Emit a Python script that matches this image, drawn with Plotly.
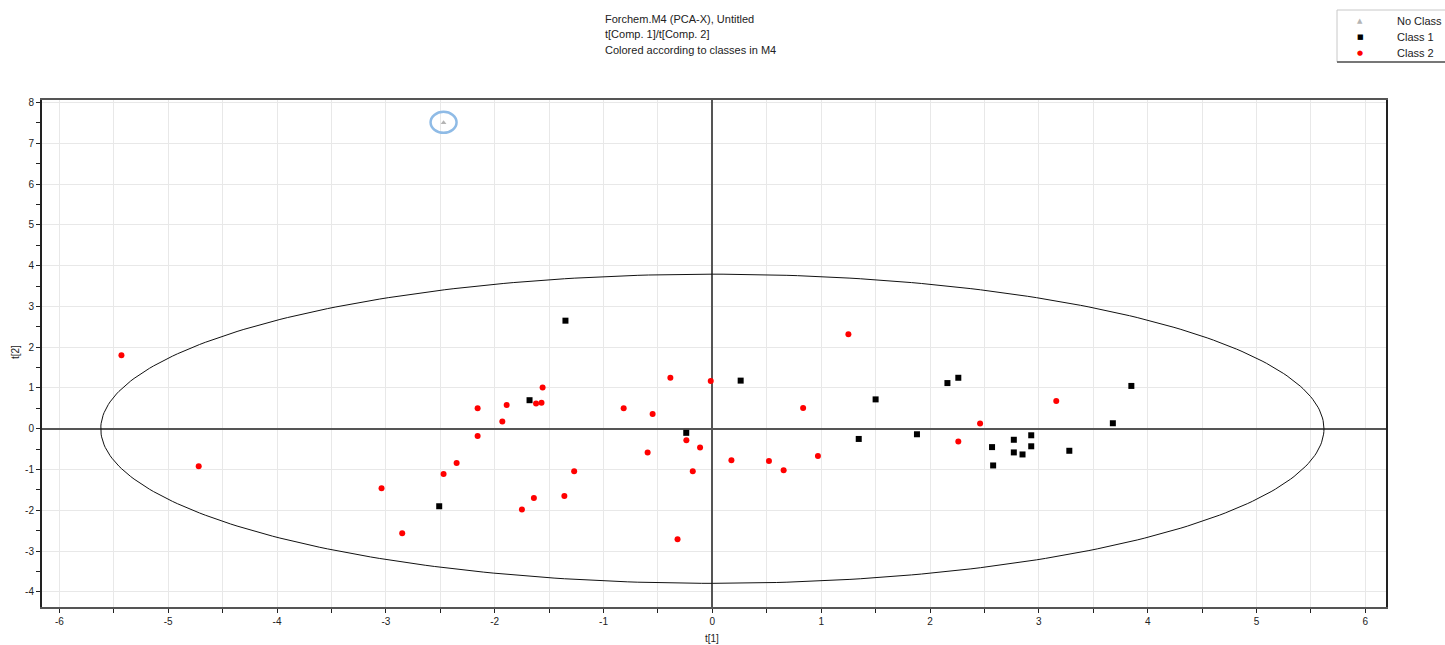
import numpy as np
import plotly.graph_objects as go

# Score values t[1], t[2] per class
no_class_t1 = [-2.47]
no_class_t2 = [7.50]

class1_t1 = [-1.35, -1.68, -2.51, -0.24, 0.26, 1.345, 1.50, 1.88, 2.16, 2.26,
             2.57, 2.58, 2.77, 2.77, 2.85, 2.93, 2.93, 3.28, 3.68, 3.85]
class1_t2 = [2.65, 0.70, -1.90, -0.10, 1.18, -0.25, 0.72, -0.135, 1.12, 1.25,
             -0.45, -0.90, -0.27, -0.58, -0.63, -0.16, -0.43, -0.54, 0.135, 1.05]

class2_t1 = [-5.43, -4.72, -3.04, -2.85, -2.157, -2.157, -2.35, -2.47, -1.89, -1.93,
             -1.62, -1.57, -1.56, -1.75, -1.64, -1.36, -1.27, -0.815, -0.595, -0.549,
             -0.386, -0.32, -0.239, -0.18, -0.113, -0.015, 0.175, 0.52, 0.655, 0.834,
             0.97, 1.25, 2.46, 2.26, 3.16]
class2_t2 = [1.80, -0.92, -1.46, -2.56, 0.50, -0.18, -0.84, -1.11, 0.58, 0.18,
             0.62, 0.64, 1.01, -1.98, -1.70, -1.65, -1.04, 0.50, -0.58, 0.36,
             1.25, -2.71, -0.28, -1.04, -0.46, 1.17, -0.77, -0.79, -1.02, 0.51,
             -0.67, 2.32, 0.13, -0.31, 0.68]

# Hotelling T2 ellipse semi-axes
ell_a = 5.62
ell_b = 3.79

x_ticks = list(range(-6, 7))
y_ticks = list(range(-4, 9))

legend_names = ["No Class", "Class 1", "Class 2"]
legend_glyphs = ["▲", "■", "●"]
legend_colors = ["#b4b4b4", "#000000", "#ff0000"]

title_lines = ["Forchem.M4 (PCA-X), Untitled",
               "t[Comp. 1]/t[Comp. 2]",
               "Colored according to classes in M4"]

# Figure geometry (pixels)
W, H = 1445, 645
ML, MR, MT, MB = 42, 59, 100, 38
PW, PH = W - ML - MR, H - MT - MB


def px_x(px):
    return (px - ML) / PW


def px_y(py):
    return (H - MB - py) / PH


theta = np.linspace(0, 2 * np.pi, 361)
ell_x = ell_a * np.cos(theta)
ell_y = ell_b * np.sin(theta)

fig = go.Figure()

fig.add_trace(go.Scatter(x=ell_x, y=ell_y, mode="lines",
                         line=dict(color="#111111", width=1),
                         showlegend=False, hoverinfo="skip"))

fig.add_trace(go.Scatter(x=no_class_t1, y=no_class_t2, mode="markers", name="No Class",
                         marker=dict(symbol="triangle-up", size=5, color="#b4b4b4"),
                         showlegend=False))
fig.add_trace(go.Scatter(x=class1_t1, y=class1_t2, mode="markers", name="Class 1",
                         marker=dict(symbol="square", size=6, color="#000000"),
                         showlegend=False))
fig.add_trace(go.Scatter(x=class2_t1, y=class2_t2, mode="markers", name="Class 2",
                         marker=dict(symbol="circle", size=6, color="#ff0000"),
                         showlegend=False))

# Highlight circle around the unclassified observation
fig.add_shape(type="circle", xref="x", yref="y", xsizemode="pixel", ysizemode="pixel",
              xanchor=no_class_t1[0], yanchor=no_class_t2[0],
              x0=-13, x1=13, y0=-10, y1=11,
              line=dict(color="#8fbbe6", width=2.5))

# Title block
for i, line in enumerate(title_lines):
    fig.add_annotation(text=line, xref="paper", yref="paper",
                       x=px_x(603), y=px_y(19 + 15.5 * i),
                       xanchor="left", yanchor="middle", showarrow=False,
                       font=dict(size=11, color="#222222"))

# Legend box
fig.add_shape(type="rect", xref="paper", yref="paper",
              x0=px_x(1337), x1=px_x(1460), y0=px_y(62), y1=px_y(10),
              line=dict(color="#c8c8c8", width=1), fillcolor="white")
fig.add_shape(type="line", xref="paper", yref="paper",
              x0=px_x(1337), x1=px_x(1460), y0=px_y(62), y1=px_y(62),
              line=dict(color="#777777", width=2))
for i, (name, glyph, col) in enumerate(zip(legend_names, legend_glyphs, legend_colors)):
    yy = px_y(21 + 16 * i)
    fig.add_annotation(text=glyph, xref="paper", yref="paper", x=px_x(1360), y=yy,
                       xanchor="center", yanchor="middle", showarrow=False,
                       font=dict(size=7, color=col, family="DejaVu Sans"))
    fig.add_annotation(text=name, xref="paper", yref="paper", x=px_x(1395), y=yy,
                       xanchor="left", yanchor="middle", showarrow=False,
                       font=dict(size=11, color="#222222"))

# Axis titles
axis_font = dict(family="Arial, Liberation Sans, sans-serif", size=10, color="#222222")
fig.add_annotation(text="t[1]", xref="paper", yref="paper", x=px_x(712), y=px_y(638),
                   xanchor="center", yanchor="middle", showarrow=False, font=axis_font)
fig.add_annotation(text="t[2]", xref="paper", yref="paper", x=px_x(15), y=px_y(352),
                   xanchor="center", yanchor="middle", showarrow=False, textangle=-90,
                   font=axis_font)

fig.update_xaxes(range=[-6.16, 6.19], tickvals=x_ticks, ticktext=[str(v) for v in x_ticks],
                 ticks="outside", ticklen=4, tickcolor="#222222", tickfont=axis_font,
                 showgrid=True, gridcolor="#e8e8e8", gridwidth=1,
                 minor=dict(dtick=0.5, tick0=0, ticks="outside", ticklen=4, tickcolor="#222222",
                            showgrid=True, gridcolor="#e8e8e8", gridwidth=1),
                 zeroline=True, zerolinecolor="#555555", zerolinewidth=1.5,
                 showline=True, linecolor="#555555", linewidth=2, mirror=True,
                 automargin=False)
fig.update_yaxes(range=[-4.37, 8.06], tickvals=y_ticks, ticktext=[str(v) for v in y_ticks],
                 ticks="outside", ticklen=4, tickcolor="#222222", tickfont=axis_font,
                 showgrid=True, gridcolor="#e8e8e8", gridwidth=1,
                 minor=dict(dtick=0.5, tick0=0, ticks="outside", ticklen=4, tickcolor="#222222",
                            showgrid=False),
                 zeroline=True, zerolinecolor="#555555", zerolinewidth=1.5,
                 showline=True, linecolor="#222222", linewidth=2, mirror=True,
                 automargin=False)

fig.update_layout(
    width=W, height=H,
    margin=dict(l=ML, r=MR, t=MT, b=MB),
    paper_bgcolor="white", plot_bgcolor="white",
    font=dict(family="Arial, Liberation Sans, sans-serif", size=11, color="#222222"),
    showlegend=False,
)

fig.write_html("out.html")
